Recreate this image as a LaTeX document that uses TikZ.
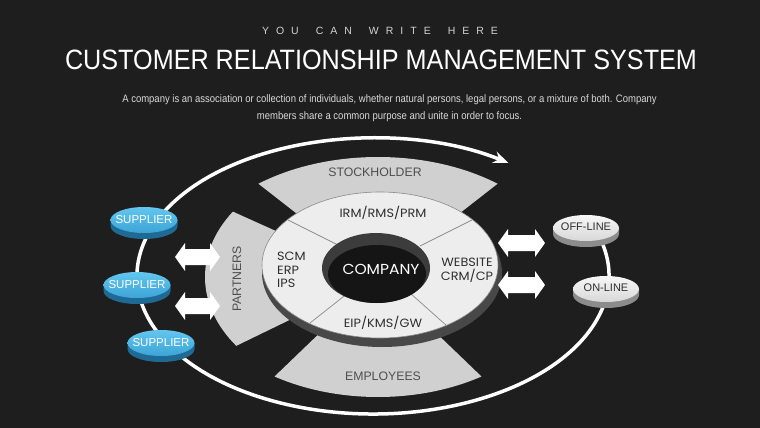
\documentclass[tikz,border=0pt]{standalone}
\usepackage{fontspec}
\setmainfont{Liberation Sans}
\newfontfamily\popfont[FakeStretch=1.07]{Poppins}
\newfontfamily\condfont[FakeStretch=0.88]{Liberation Sans}
\newfontfamily\titlefont[FakeStretch=0.9]{Liberation Sans}
\usetikzlibrary{arrows.meta}
\definecolor{bg}{HTML}{1E1E1E}
\definecolor{sector}{HTML}{D0D0D0}
\definecolor{ringface}{HTML}{EDEDED}
\definecolor{ringside}{HTML}{484848}
\definecolor{ringedge}{HTML}{8A8A8A}
\definecolor{holelip}{HTML}{3C3C3C}
\definecolor{holein}{HTML}{151515}
\definecolor{bluetopA}{HTML}{62C6EF}
\definecolor{bluetopB}{HTML}{3DA4D6}
\definecolor{blueside}{HTML}{1F6A94}
\definecolor{greytext}{HTML}{4E4E4E}
\definecolor{ringtext}{HTML}{2E2E2E}
\definecolor{subtext}{HTML}{D2D2D2}
\definecolor{paratext}{HTML}{DADADA}
\definecolor{whiteA}{HTML}{F7F7F7}
\definecolor{whiteB}{HTML}{D8D8D8}
\definecolor{whiteside}{HTML}{8C8C8C}
\newcommand\ls{\hspace{7pt}}
\newcommand\ws{\hspace{17pt}}
% disk: x, y, rx, ry, side colour, face style
\newcommand\disk[6]{%
  \fill[#5] (#1-#3,#2) -- (#1-#3,#2+6) arc[start angle=180,end angle=360,x radius=#3 pt,y radius=#4 pt] -- (#1+#3,#2) -- cycle;
  \shade[#6] (#1,#2) ellipse[x radius=#3 pt, y radius=#4 pt];}
% double arrow: x1, x2, yc
\newcommand\dblarrow[3]{\fill[white] (#1,#3) -- (#1+10,#3-14) -- (#1+10,#3-8) -- (#2-10,#3-8) -- (#2-10,#3-14) -- (#2,#3) -- (#2-10,#3+14) -- (#2-10,#3+8) -- (#1+10,#3+8) -- (#1+10,#3+14) -- cycle;}
\tikzset{
  bigloop/.style={draw=white, line width=3.5pt, -{Stealth[length=15pt,width=12pt,inset=5pt]}},
  sectorfill/.style={fill=sector},
  ringlabel/.style={font=\popfont\fontsize{12}{13}\selectfont, text=ringtext, inner sep=0pt},
  bandlabel/.style={font=\fontsize{12.3}{14}\selectfont, text=greytext, inner sep=0pt},
  bluefaceshade/.style={top color=bluetopA, bottom color=bluetopB},
  whitefaceshade/.style={top color=whiteA, bottom color=whiteB},
  suplabel/.style={text=white, inner sep=0pt, font=\fontsize{11.5}{12}\selectfont},
  linelabel/.style={text=ringtext, inner sep=0pt, font=\fontsize{11}{12}\selectfont},
  divider/.style={draw=ringedge, line width=0.7pt}
}
\begin{document}
\begin{tikzpicture}[x=1pt,y=-1pt]
\fill[bg] (0,0) rectangle (760,428);
\useasboundingbox (0,0) rectangle (760,428);

% header
\node[font=\fontsize{10.5}{12}\selectfont, text=subtext, inner sep=0pt] (kicker) at (380,31)
  {Y\ls O\ls U\ws C\ls A\ls N\ws W\ls R\ls I\ls T\ls E\ws H\ls E\ls R\ls E};
\node[font=\titlefont\fontsize{28}{30}\selectfont, text=white, inner sep=0pt] (title) at (381,60)
  {CUSTOMER RELATIONSHIP MANAGEMENT SYSTEM};
\node[font=\condfont\fontsize{10.8}{17}\selectfont, text=paratext, align=center, inner sep=0pt] (para) at (389.5,108)
  {A company is an association or collection of individuals, whether natural persons, legal persons, or a mixture of both. Company\\
   members share a common purpose and unite in order to focus.};

% big loop
\draw[bigloop] (373,276) ++(25:236pt and 138pt)
  arc[start angle=25, end angle=-305, x radius=236pt, y radius=138pt];

% sectors
\fill[sectorfill] (378,277) -- ++(129:190pt and 120pt)
  arc[start angle=129, end angle=51, x radius=190pt, y radius=120pt] -- cycle;
\fill[sectorfill] (378,277) -- ++(-124:185pt and 120pt)
  arc[start angle=-124, end angle=-56, x radius=185pt, y radius=120pt] -- cycle;
\fill[sectorfill] (378,277) -- ++(147:173pt and 120pt)
  arc[start angle=147, end angle=215, x radius=173pt, y radius=120pt] -- cycle;

% ring
\fill[ringside] (382,273) ellipse[x radius=120pt, y radius=74pt];
\filldraw[fill=ringface, draw=ringedge, line width=0.6pt] (380,265) ellipse[x radius=118pt, y radius=73pt];
\draw[divider] (288,220) -- (340,246);
\draw[divider] (472,220) -- (420,246);
\draw[divider] (310,323) -- (348,293);
\draw[divider] (447,326) -- (410,293);
\fill[holelip] (376,268) ellipse[x radius=54pt, y radius=35pt];
\fill[holein] (377,274) ellipse[x radius=49pt, y radius=29pt];

% labels
\node[font=\popfont\fontsize{14.5}{16}\selectfont, text=white, inner sep=0pt] (company) at (381,269) {COMPANY};
\node[ringlabel] (irm) at (383,213) {IRM/RMS/PRM};
\node[ringlabel, align=left, anchor=west, font=\popfont\fontsize{12}{13.3}\selectfont] (scm) at (277,270) {SCM\\ERP\\IPS};
\node[ringlabel, align=center, font=\popfont\fontsize{12}{14}\selectfont] (web) at (467,270) {WEBSITE\\CRM/CP};
\node[ringlabel] (eip) at (383,323) {EIP/KMS/GW};
\node[bandlabel] (stock) at (375,172) {STOCKHOLDER};
\node[bandlabel] (empl) at (383,376) {EMPLOYEES};
\node[bandlabel, rotate=90] (partners) at (237,279) {PARTNERS};

% double arrows
\dblarrow{175}{220}{257}
\dblarrow{175}{220}{306}
\dblarrow{498}{545}{243}
\dblarrow{498}{545}{285}

% suppliers
\disk{144}{220}{33.5}{13}{blueside}{bluefaceshade}
\node[suplabel] (sup1) at (144,220) {SUPPLIER};
\disk{137}{285}{33.5}{13}{blueside}{bluefaceshade}
\node[suplabel] (sup2) at (137,285) {SUPPLIER};
\disk{161}{343}{33.5}{13}{blueside}{bluefaceshade}
\node[suplabel] (sup3) at (161,343) {SUPPLIER};

% off-line / on-line
\disk{586}{228}{33}{13}{whiteside}{whitefaceshade}
\node[linelabel] (offline) at (586,227) {OFF-LINE};
\disk{606}{289}{33}{13}{whiteside}{whitefaceshade}
\node[linelabel] (online) at (606,288) {ON-LINE};
\end{tikzpicture}
\end{document}
